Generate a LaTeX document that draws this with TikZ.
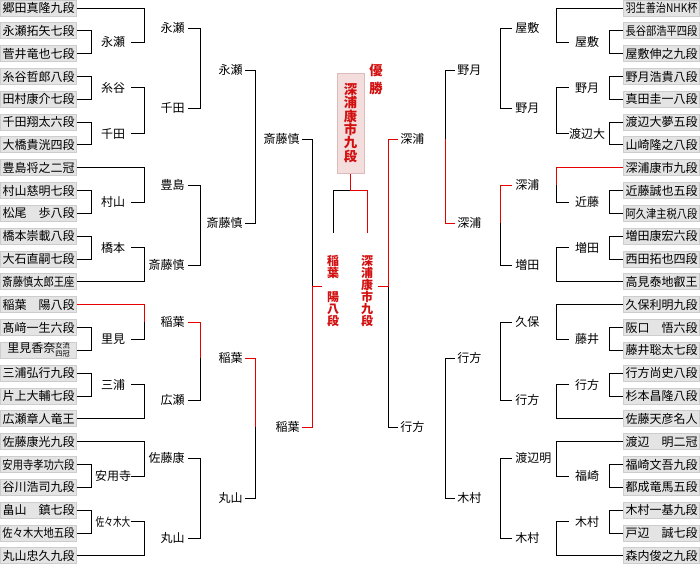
\documentclass[tikz,border=0pt]{standalone}
\usepackage{fontspec}
\setmainfont{Noto Sans CJK JP}
\usepackage{graphicx}
\definecolor{wred}{RGB}{230,0,0}
\definecolor{tred}{RGB}{210,16,16}
\definecolor{boxgray}{RGB}{228,228,228}
\definecolor{boxedge}{RGB}{205,205,205}
\definecolor{champfill}{RGB}{243,221,221}
\definecolor{champedge}{RGB}{221,187,187}
\newsavebox\nmbox
\newcommand\fitname[1]{\sbox\nmbox{#1}\ifdim\wd\nmbox>54pt\resizebox{54pt}{\height}{\usebox\nmbox}\else\usebox\nmbox\fi}
\newcommand\smallstack[2]{{\fontsize{5.4pt}{6pt}\selectfont\begin{tabular}[c]{@{}c@{}}#1\\[-0.3pt]#2\end{tabular}}}
\begin{document}
\begin{tikzpicture}[x=0.75pt,y=-0.75pt,
  every node/.style={font=\fontsize{9pt}{9pt}\selectfont, inner sep=0pt},
  nm/.style={fill=boxgray, draw=boxedge, line width=0.75pt, minimum width=57pt, minimum height=12pt, inner sep=0pt},
  ln/.style={line width=0.75pt, black},
  rl/.style={line width=0.75pt, wred},
  fin/.style={text=tred, align=center, font=\fontsize{9pt}{9pt}\selectfont\bfseries},
  champ/.style={fill=champfill, draw=champedge, line width=0.75pt, text=tred, align=center,
     minimum width=20.25pt, minimum height=75pt, font=\fontsize{10pt}{10pt}\selectfont\bfseries}
]
\useasboundingbox (0,0) rectangle (700,564);

% ---------- name boxes ----------
\foreach \i/\n in {0/郷田真隆九段,1/永瀬拓矢七段,2/菅井竜也七段,3/糸谷哲郎八段,4/田村康介七段,
  5/千田翔太六段,6/大橋貴洸四段,7/豊島将之二冠,8/村山慈明七段,9/松尾　歩八段,10/橋本崇載八段,
  11/大石直嗣七段,12/斎藤慎太郎王座,13/稲葉　陽八段,14/髙﨑一生六段,15/{里見香奈\smallstack{女流}{四冠}},
  16/三浦弘行九段,17/片上大輔七段,18/広瀬章人竜王,19/佐藤康光九段,20/安用寺孝功六段,21/谷川浩司九段,
  22/畠山　鎮七段,23/佐々木大地五段,24/丸山忠久九段}
  \node[nm] (L\i) at (38.5,{8+22.83*\i}) {\fitname{\n}};
\foreach \i/\n in {0/羽生善治NHK杯,1/長谷部浩平四段,2/屋敷伸之九段,3/野月浩貴八段,4/真田圭一八段,
  5/渡辺大夢五段,6/山崎隆之八段,7/深浦康市九段,8/近藤誠也五段,9/阿久津主税八段,10/増田康宏六段,
  11/西田拓也四段,12/高見泰地叡王,13/久保利明九段,14/阪口　悟六段,15/藤井聡太七段,16/行方尚史八段,
  17/杉本昌隆八段,18/佐藤天彦名人,19/渡辺　明二冠,20/福崎文吾九段,21/都成竜馬五段,22/木村一基九段,
  23/戸辺　誠七段,24/森内俊之九段}
  \node[nm] (R\i) at (661.5,{8+22.83*\i}) {\fitname{\n}};

% ---------- bracket x positions ----------
\coordinate (xL1) at (91,0);  \coordinate (xL2) at (144,0); \coordinate (xL3) at (200,0);
\coordinate (xL4) at (255,0); \coordinate (xL5) at (312,0);
\coordinate (xR1) at (609,0); \coordinate (xR2) at (556,0); \coordinate (xR3) at (500,0);
\coordinate (xR4) at (445,0); \coordinate (xR5) at (388,0);

% ---------- left labels ----------
\foreach \n/\y/\t in {1/42.3/永瀬,3/87.9/糸谷,5/133.6/千田,8/202.1/村山,10/247.7/橋本,
  14/339.1/里見,16/384.7/三浦,20/476/安用寺,22/521.7/{\resizebox{26pt}{\height}{佐々木大}}}{
  \node (la\n) at (113,\y) {\t};
  \coordinate (la\n o) at (131,\y);}
\foreach \n/\y/\t in {0/28/永瀬,1/108/千田,2/185/豊島,3/265/斎藤慎,4/322/稲葉,5/400/広瀬,6/458/佐藤康,7/538/丸山}{
  \node[anchor=east] (lb\n) at (185,\y) {\t};
  \coordinate (lb\n o) at (188,\y);}
\foreach \n/\y/\t in {0/70/永瀬,1/223/斎藤慎,2/358/稲葉,3/498/丸山}{
  \node[anchor=east] (lc\n) at (243,\y) {\t};
  \coordinate (lc\n o) at (245,\y);}
\foreach \n/\y/\t in {0/139/斎藤慎,1/427/稲葉}{
  \node[anchor=east] (ld\n) at (300,\y) {\t};
  \coordinate (ld\n o) at (302,\y);}

% ---------- right labels ----------
\foreach \n/\y/\t in {1/42.3/屋敷,3/87.9/野月,5/133.6/渡辺大,8/202.1/近藤,10/247.7/増田,
  14/339.1/藤井,16/384.7/行方,20/476/福崎,22/521.7/木村}{
  \node (ra\n) at (587,\y) {\t};
  \coordinate (ra\n o) at (569,\y);}
\foreach \n/\y/\t in {0/28/屋敷,1/108/野月,2/185/深浦,3/265/増田,4/322/久保,5/400/行方,6/458/渡辺明,7/538/木村}{
  \node[anchor=west] (rb\n) at (515,\y) {\t};
  \coordinate (rb\n o) at (512,\y);}
\foreach \n/\y/\t in {0/70/野月,1/223/深浦,2/358/行方,3/498/木村}{
  \node[anchor=west] (rc\n) at (457,\y) {\t};
  \coordinate (rc\n o) at (455,\y);}
\foreach \n/\y/\t in {0/139/深浦,1/427/行方}{
  \node[anchor=west] (rd\n) at (400,\y) {\t};
  \coordinate (rd\n o) at (398,\y);}

% ---------- left brackets ----------
\foreach \i/\j in {1/2,3/4,5/6,8/9,10/11,14/15,16/17,20/21,22/23}
  \draw[ln] (L\i.east) -| (L\j.east -| xL1) -- (L\j.east);
\draw[ln] (L0.east) -| (la1o -| xL2) -- (la1o);
\draw[ln] (la3o) -| (la5o -| xL2) -- (la5o);
\draw[ln] (L7.east) -| (la8o -| xL2) -- (la8o);
\draw[ln] (la10o) -| (L12.east -| xL2) -- (L12.east);
\draw[ln] (lb4o -| xL2) |- (la14o);
\draw[rl] (L13.east) -| (lb4o -| xL2);
\draw[ln] (la16o) -| (L18.east -| xL2) -- (L18.east);
\draw[ln] (L19.east) -| (la20o -| xL2) -- (la20o);
\draw[ln] (la22o) -| (L24.east -| xL2) -- (L24.east);
\draw[ln] (lb0o) -| (lb1o -| xL3) -- (lb1o);
\draw[ln] (lb2o) -| (lb3o -| xL3) -- (lb3o);
\draw[ln] (lc2o -| xL3) |- (lb5o);
\draw[rl] (lb4o) -| (lc2o -| xL3);
\draw[ln] (lb6o) -| (lb7o -| xL3) -- (lb7o);
\draw[ln] (lc0o) -| (lc1o -| xL4) -- (lc1o);
\draw[ln] (ld1o -| xL4) |- (lc3o);
\draw[rl] (lc2o) -| (ld1o -| xL4);
\coordinate (sfl) at (322,286);
\coordinate (sfr) at (378,286);
\draw[ln] (ld0o) -| (sfl -| xL5);
\draw[rl] (ld1o) -| (sfl -| xL5) -- (sfl);

% ---------- right brackets ----------
\foreach \i/\j in {1/2,3/4,5/6,8/9,10/11,14/15,16/17,20/21,22/23}
  \draw[ln] (R\i.west) -| (R\j.west -| xR1) -- (R\j.west);
\draw[ln] (R0.west) -| (ra1o -| xR2) -- (ra1o);
\draw[ln] (ra3o) -| (ra5o -| xR2) -- (ra5o);
\draw[ln] (rb2o -| xR2) |- (ra8o);
\draw[rl] (R7.west) -| (rb2o -| xR2);
\draw[ln] (ra10o) -| (R12.west -| xR2) -- (R12.west);
\draw[ln] (R13.west) -| (ra14o -| xR2) -- (ra14o);
\draw[ln] (ra16o) -| (R18.west -| xR2) -- (R18.west);
\draw[ln] (R19.west) -| (ra20o -| xR2) -- (ra20o);
\draw[ln] (ra22o) -| (R24.west -| xR2) -- (R24.west);
\draw[ln] (rb0o) -| (rb1o -| xR3) -- (rb1o);
\draw[ln] (rc1o -| xR3) |- (rb3o);
\draw[rl] (rb2o) -| (rc1o -| xR3);
\draw[ln] (rb4o) -| (rb5o -| xR3) -- (rb5o);
\draw[ln] (rb6o) -| (rb7o -| xR3) -- (rb7o);
\draw[ln] (rc0o) -| (rd0o -| xR4);
\draw[rl] (rc1o) -| (rd0o -| xR4);
\draw[ln] (rc2o) -| (rc3o -| xR4) -- (rc3o);
\draw[ln] (rd1o) -| (sfr -| xR5);
\draw[rl] (rd0o) -| (sfr -| xR5) -- (sfr);

% ---------- final ----------
\node[fin] (finL) at (333,291) {稲\\葉\\　\\陽\\八\\段};
\node[fin] (finR) at (367,291) {深\\浦\\康\\市\\九\\段};
\node[champ] (champ) at (350.5,123) {深\\浦\\康\\市\\九\\段};
\node[text=tred, align=center, font=\fontsize{10pt}{13.5pt}\selectfont\bfseries] (yusho) at (376,79) {優\\勝};
\coordinate (fkL) at (333,233);
\coordinate (fkR) at (367,233);
\coordinate (fk) at (350.5,190);
\draw[ln] (fkL) |- (fk);
\draw[rl] (fkR) |- (fk) -- (champ.south);
\end{tikzpicture}
\end{document}
